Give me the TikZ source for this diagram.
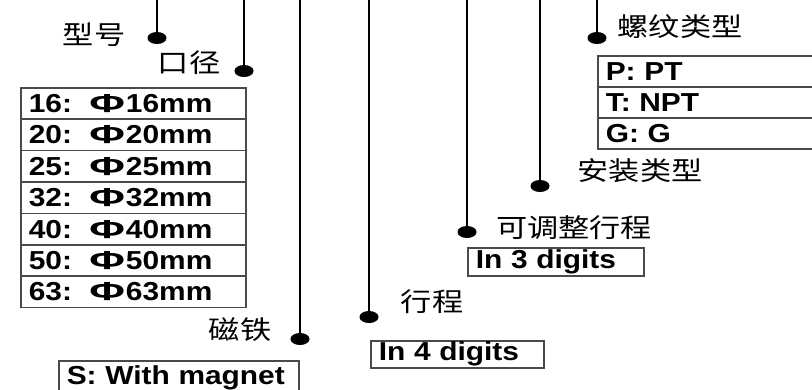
\documentclass[tikz,border=0pt]{standalone}
\usepackage{fontspec}
\setmainfont{Liberation Sans}[FakeStretch=1.15]
\newfontfamily\cjk{Noto Sans CJK SC}[FakeStretch=1.2]
\usetikzlibrary{shapes.geometric}
\definecolor{frame-grey}{HTML}{4A4A4A}
\newcommand{\widephi}{\scalebox{1.45}[1]{Φ}\hspace{1pt}}

\begin{document}
\begin{tikzpicture}[x=1pt,y=-1pt,
    code/.style={draw=frame-grey, line width=1.6pt, anchor=north west, inner xsep=8pt, inner ysep=0pt, align=left, font=\fontsize{26}{28}\selectfont\bfseries},
    part/.style={font=\cjk\fontsize{26}{28}\selectfont},
    pin/.style={ellipse, fill=black, inner sep=0pt, minimum width=19pt, minimum height=12pt},
    lead/.style={line width=2.2pt}]
    \useasboundingbox (0,0) rectangle (812,389);
    \clip (0,0) rectangle (812,389);

    % part labels
    \node[part] (TypeLabel) at (94,35) {型号};
    \node[part] (BoreLabel) at (189,63) {口径};
    \node[part] (MagnetLabel) at (240,330) {磁铁};
    \node[part] (StrokeLabel) at (432,302) {行程};
    \node[part] (AdjustLabel) at (574,228) {可调整行程};
    \node[part] (MountLabel) at (640,171) {安装类型};
    \node[part] (ThreadLabel) at (680,27) {螺纹类型};

    % pins and leads from the top
    \node[pin] (TypePin) at (157,38) {};
    \node[pin] (BorePin) at (244,71) {};
    \node[pin] (MagnetPin) at (300,339) {};
    \node[pin] (StrokePin) at (369,317) {};
    \node[pin] (AdjustPin) at (467,232) {};
    \node[pin] (MountPin) at (540,186) {};
    \node[pin] (ThreadPin) at (597,38) {};

    \coordinate (TypeTop) at (157,-5);
    \coordinate (BoreTop) at (244,-5);
    \coordinate (MagnetTop) at (300,-5);
    \coordinate (StrokeTop) at (369,-5);
    \coordinate (AdjustTop) at (467,-5);
    \coordinate (MountTop) at (540,-5);
    \coordinate (ThreadTop) at (597,-5);

    \draw[lead] (TypeTop) -- (TypePin);
    \draw[lead] (BoreTop) -- (BorePin);
    \draw[lead] (MagnetTop) -- (MagnetPin);
    \draw[lead] (StrokeTop) -- (StrokePin);
    \draw[lead] (AdjustTop) -- (AdjustPin);
    \draw[lead] (MountTop) -- (MountPin);
    \draw[lead] (ThreadTop) -- (ThreadPin);

    % bore table
    \draw (20,87) node[code, text width=209pt, minimum height=31.4pt] (Bore_16) {16:~~\widephi16mm};
    \draw (20,118.4) node[code, text width=209pt, minimum height=31.4pt] (Bore_20) {20:~~\widephi20mm};
    \draw (20,149.8) node[code, text width=209pt, minimum height=31.4pt] (Bore_25) {25:~~\widephi25mm};
    \draw (20,181.2) node[code, text width=209pt, minimum height=31.4pt] (Bore_32) {32:~~\widephi32mm};
    \draw (20,212.6) node[code, text width=209pt, minimum height=31.4pt] (Bore_40) {40:~~\widephi40mm};
    \draw (20,244) node[code, text width=209pt, minimum height=31.4pt] (Bore_50) {50:~~\widephi50mm};
    \draw (20,275.4) node[code, text width=209pt, minimum height=31.4pt] (Bore_63) {63:~~\widephi63mm};

    % thread table
    \draw (597,55) node[code, text width=240pt, minimum height=31pt] (Thread_P) {P: PT};
    \draw (597,86) node[code, text width=240pt, minimum height=31pt] (Thread_T) {T: NPT};
    \draw (597,117) node[code, text width=240pt, minimum height=31pt] (Thread_G) {G: G};

    % stroke and magnet codes
    \draw (467,247) node[code, text width=160pt, minimum height=28pt] (AdjustCode) {In 3 digits};
    \draw (370,340) node[code, text width=157pt, minimum height=27pt] (StrokeCode) {In 4 digits};
    \draw (58,360) node[code, text width=224pt, minimum height=34pt] (MagnetCode) {S: With magnet};
\end{tikzpicture}
\end{document}
